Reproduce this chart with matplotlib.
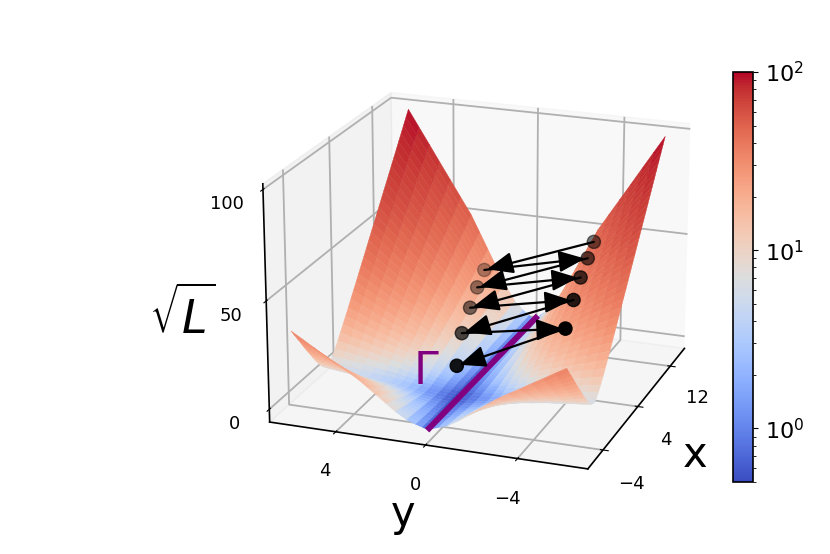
import numpy as np
import matplotlib
matplotlib.use('Agg')
import matplotlib.pyplot as plt
from matplotlib.colors import LogNorm
from mpl_toolkits.mplot3d import proj3d

# surface values, y >= 0 half, mirrored below
x_vals = [-7, -6.5, -6, -5.5, -5, -4.5, -4, -3.5, -3, -2.5, -2, -1.5, -1, -0.5, 0, 0.5, 1, 1.5, 2, 2.5, 3, 3.5, 4,
          4.5, 5, 5.5, 6, 6.5, 7, 7.5, 8, 8.5, 9, 9.5, 10, 10.5, 11, 11.5, 12, 12.5, 13, 13.5, 14, 14.5, 15]
y_half = [0, 0.2, 0.5, 0.9, 1.4, 1.8, 2.2, 2.6, 3, 3.5, 4, 4.5, 5, 5.5, 6]
z_half = [
    [.5, 1.1, 2.0, 3.5, 6.6, 9.6, 12.7, 15.7, 18.7, 21.8, 24.8, 27.9, 30.9, 34.0, 37.0],
    [.5, 1.1, 1.9, 3.3, 6.1, 8.9, 11.7, 14.5, 17.3, 20.1, 22.9, 25.7, 28.5, 31.2, 34.0],
    [.5, 1.0, 1.8, 3.0, 5.6, 8.1, 10.7, 13.2, 15.8, 18.3, 20.9, 23.4, 26.0, 28.5, 31.1],
    [.5, 1.0, 1.7, 2.8, 5.1, 7.4, 9.7, 12.0, 14.3, 16.6, 18.9, 21.2, 23.6, 25.9, 28.2],
    [.5, .9, 1.5, 2.6, 4.6, 6.7, 8.7, 10.8, 12.9, 14.9, 17.0, 19.1, 21.1, 23.2, 25.2],
    [.5, .9, 1.4, 2.3, 4.1, 6.0, 7.8, 9.6, 11.4, 13.2, 15.1, 16.9, 18.7, 20.5, 22.3],
    [.5, .8, 1.3, 2.1, 3.7, 5.2, 6.8, 8.4, 10.0, 11.6, 13.1, 14.7, 16.3, 17.9, 19.5],
    [.5, .8, 1.2, 1.8, 3.2, 4.5, 5.9, 7.2, 8.6, 9.9, 11.3, 12.6, 14.0, 15.3, 16.7],
    [.5, .7, 1.1, 1.6, 2.7, 3.9, 5.0, 6.1, 7.2, 8.3, 9.4, 10.6, 11.7, 12.8, 13.9],
    [.5, .7, 1.0, 1.4, 2.3, 3.2, 4.1, 5.0, 5.9, 6.8, 7.7, 8.6, 9.5, 10.4, 11.3],
    [.5, .6, .9, 1.2, 1.9, 2.6, 3.3, 4.0, 4.7, 5.4, 6.2, 6.9, 7.6, 8.3, 9.0],
    [.5, .6, .8, 1.1, 1.6, 2.2, 2.7, 3.3, 3.9, 4.4, 5.0, 5.5, 6.1, 6.6, 7.2],
    [.5, .6, .8, 1.0, 1.5, 2.0, 2.5, 3.0, 3.5, 4.0, 4.5, 5.0, 5.5, 6.0, 6.5],
    [.5, .6, .8, 1.1, 1.6, 2.2, 2.7, 3.3, 3.9, 4.4, 5.0, 5.5, 6.1, 6.6, 7.2],
    [.5, .6, .9, 1.2, 1.9, 2.6, 3.3, 4.0, 4.7, 5.4, 6.2, 6.9, 7.6, 8.3, 9.0],
    [.5, .7, 1.0, 1.4, 2.3, 3.2, 4.1, 5.0, 5.9, 6.8, 7.7, 8.6, 9.5, 10.4, 11.3],
    [.5, .7, 1.1, 1.6, 2.7, 3.9, 5.0, 6.1, 7.2, 8.3, 9.4, 10.6, 11.7, 12.8, 13.9],
    [.5, .8, 1.2, 1.8, 3.2, 4.5, 5.9, 7.2, 8.6, 9.9, 11.3, 12.6, 14.0, 15.3, 16.7],
    [.5, .8, 1.3, 2.1, 3.7, 5.2, 6.8, 8.4, 10.0, 11.6, 13.1, 14.7, 16.3, 17.9, 19.5],
    [.5, .9, 1.4, 2.3, 4.1, 6.0, 7.8, 9.6, 11.4, 13.2, 15.1, 16.9, 18.7, 20.5, 22.3],
    [.5, .9, 1.5, 2.6, 4.6, 6.7, 8.7, 10.8, 12.9, 14.9, 17.0, 19.1, 21.1, 23.2, 25.2],
    [.5, 1.0, 1.7, 2.8, 5.1, 7.4, 9.7, 12.0, 14.3, 16.6, 18.9, 21.2, 23.6, 25.9, 28.2],
    [.5, 1.0, 1.8, 3.0, 5.6, 8.1, 10.7, 13.2, 15.8, 18.3, 20.9, 23.4, 26.0, 28.5, 31.1],
    [.5, 1.1, 1.9, 3.3, 6.1, 8.9, 11.7, 14.5, 17.3, 20.1, 22.9, 25.7, 28.5, 31.2, 34.0],
    [.5, 1.1, 2.0, 3.5, 6.6, 9.6, 12.7, 15.7, 18.7, 21.8, 24.8, 27.9, 30.9, 34.0, 37.0],
    [.5, 1.2, 2.1, 3.8, 7.1, 10.4, 13.7, 16.9, 20.2, 23.5, 26.8, 30.1, 33.4, 36.7, 40.0],
    [.5, 1.2, 2.3, 4.0, 7.6, 11.1, 14.6, 18.2, 21.7, 25.2, 28.8, 32.3, 35.9, 39.4, 42.9],
    [.5, 1.3, 2.4, 4.3, 8.1, 11.8, 15.6, 19.4, 23.2, 27.0, 30.8, 34.5, 38.3, 42.1, 45.9],
    [.5, 1.3, 2.5, 4.5, 8.6, 12.6, 16.6, 20.7, 24.7, 28.7, 32.7, 36.8, 40.8, 44.8, 48.9],
    [.5, 1.4, 2.6, 4.8, 9.1, 13.3, 17.6, 21.9, 26.2, 30.5, 34.7, 39.0, 43.3, 47.6, 51.9],
    [.5, 1.4, 2.8, 5.0, 9.6, 14.1, 18.6, 23.1, 27.7, 32.2, 36.7, 41.2, 45.8, 50.3, 54.8],
    [.5, 1.5, 2.9, 5.3, 10.1, 14.8, 19.6, 24.4, 29.2, 33.9, 38.7, 43.5, 48.3, 53.0, 57.8],
    [.5, 1.5, 3.0, 5.5, 10.6, 15.6, 20.6, 25.6, 30.7, 35.7, 40.7, 45.7, 50.8, 55.8, 60.8],
    [.5, 1.6, 3.1, 5.8, 11.1, 16.3, 21.6, 26.9, 32.2, 37.4, 42.7, 48.0, 53.3, 58.5, 63.8],
    [.5, 1.6, 3.3, 6.0, 11.6, 17.1, 22.6, 28.1, 33.7, 39.2, 44.7, 50.2, 55.8, 61.3, 66.8],
    [.5, 1.7, 3.4, 6.3, 12.0, 17.8, 23.6, 29.4, 35.1, 40.9, 46.7, 52.4, 58.2, 64.0, 69.7],
    [.5, 1.7, 3.5, 6.5, 12.5, 18.6, 24.6, 30.6, 36.6, 42.6, 48.7, 54.7, 60.7, 66.7, 72.7],
    [.5, 1.8, 3.6, 6.8, 13.0, 19.3, 25.6, 31.9, 38.1, 44.4, 50.7, 56.9, 63.2, 69.5, 75.7],
    [.5, 1.8, 3.8, 7.0, 13.5, 20.1, 26.6, 33.1, 39.6, 46.1, 52.7, 59.2, 65.7, 72.2, 78.7],
    [.5, 1.9, 3.9, 7.3, 14.0, 20.8, 27.6, 34.4, 41.1, 47.9, 54.7, 61.4, 68.2, 75.0, 81.7],
    [.5, 1.9, 4.0, 7.5, 14.5, 21.6, 28.6, 35.6, 42.6, 49.6, 56.7, 63.7, 70.7, 77.7, 84.7],
    [.5, 2.0, 4.1, 7.8, 15.0, 22.3, 29.6, 36.8, 44.1, 51.4, 58.6, 65.9, 73.2, 80.4, 87.7],
    [.5, 2.0, 4.3, 8.0, 15.5, 23.0, 30.6, 38.1, 45.6, 53.1, 60.6, 68.1, 75.7, 83.2, 90.7],
    [.5, 2.1, 4.4, 8.3, 16.0, 23.8, 31.6, 39.3, 47.1, 54.9, 62.6, 70.4, 78.2, 85.9, 93.7],
    [.5, 2.1, 4.5, 8.5, 16.5, 24.5, 32.6, 40.6, 48.6, 56.6, 64.6, 72.6, 80.7, 88.7, 96.7],
]

# purple valley line
line_x = [-7, 16]
line_y = [0, 0]
line_z = [0, 0]

# the dots, in drawing order
path_x = [14.25, 13.54, 12.68, 11.70, 10.85, 9.61, 8.72, 6.96, 6.13, 3.58]
path_y = [-2.96, 2.05, -2.99, 1.98, -3.03, 1.85, -3.14, 1.64, -3.30, 1.11]
path_z = [44.2, 25.6, 39.6, 21.1, 34.3, 15.9, 28.3, 9.8, 20.7, 2.7]

plt.rcParams['grid.linewidth'] = 1.3
plt.rcParams['axes.linewidth'] = 1.2

fig = plt.figure(figsize=(8.3, 5.54), dpi=100)
ax = fig.add_axes([222 / 830, 1 - 532 / 554, 510 / 830, 510 / 554], projection='3d')
ax.computed_zorder = False
ax.view_init(elev=20, azim=200)

X, Y = np.meshgrid(x_vals, [-v for v in y_half[:0:-1]] + y_half, indexing='ij')
Z = np.hstack([np.array(z_half)[:, :0:-1], np.array(z_half)])

surf = ax.plot_surface(X, Y, Z, rstride=1, cstride=1, cmap='coolwarm', norm=LogNorm(vmin=0.5, vmax=100),
                       linewidth=0.3, antialiased=True, zorder=1)
surf.set_edgecolor('face')
ax.plot(line_x, line_y, line_z, color='purple', lw=4.3, zorder=3, solid_capstyle='butt')

# arrows go over the purple line
ax.scatter(path_x, path_y, path_z, color='k', s=90, zorder=4)

ax.set_xlim(-7.3, 15.7)
ax.set_ylim(-7, 7)
ax.set_zlim(-6, 102.5)
ax.set_xticks([-4, 4, 12])
ax.set_yticks([-4, 0, 4])
ax.set_zticks([0, 50, 100])
ax.tick_params(labelsize=13)
ax.tick_params(axis='x', pad=9)
ax.tick_params(axis='y', pad=8)
ax.tick_params(axis='z', pad=7)

# arrows are 2D annotations between the projected points
M = ax.get_proj()
px, py, _ = proj3d.proj_transform(np.array(path_x), np.array(path_y), np.array(path_z), M)
for i in range(len(px) - 1):
    ax.annotate('', xy=(px[i + 1], py[i + 1]), xytext=(px[i], py[i]),
                arrowprops=dict(arrowstyle='-|>,head_length=0.8,head_width=0.33', mutation_scale=20,
                                lw=1.6, color='k', shrinkA=0, shrinkB=2), zorder=5)

fig.text(695 / 830, 1 - 455 / 554, 'x', fontsize=30, ha='center', va='center')
fig.text(403 / 830, 1 - 514 / 554, 'y', fontsize=30, ha='center', va='center')
fig.text(182 / 830, 1 - 316 / 554, r'$\sqrt{L}$', fontsize=33, ha='center', va='center')
fig.text(426 / 830, 1 - 371 / 554, r'$\Gamma$', fontsize=32, color='purple', ha='center', va='center')

cax = fig.add_axes([733 / 830, 1 - 482 / 554, 20 / 830, 410 / 554])
cb = fig.colorbar(surf, cax=cax)
cb.ax.tick_params(labelsize=16, pad=5)

fig.savefig('out.png', dpi=100)
